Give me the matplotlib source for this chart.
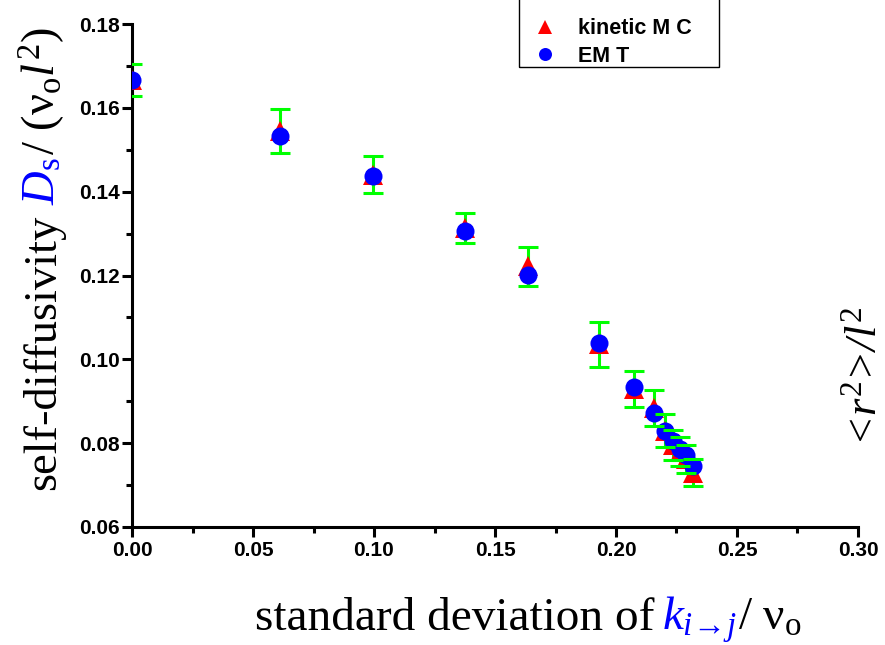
import numpy as np
import matplotlib
matplotlib.use('Agg')
import matplotlib.pyplot as plt
from matplotlib.ticker import MultipleLocator, FormatStrFormatter
from matplotlib.patches import Rectangle

plt.rcParams['mathtext.fontset'] = 'custom'
plt.rcParams['mathtext.rm'] = 'Liberation Serif'
plt.rcParams['mathtext.it'] = 'Liberation Serif:italic'
plt.rcParams['mathtext.bf'] = 'Liberation Serif:bold'

# standard deviation of k_{i->j} / nu_o
sigma = [0.0, 0.0612, 0.0997, 0.1376, 0.1638, 0.1930, 0.2075,
         0.2157, 0.2203, 0.2237, 0.2265, 0.2290, 0.2318]
# kinetic Monte Carlo self-diffusivity and its error
ds_mc = [0.1667, 0.1545, 0.1440, 0.1313, 0.1222, 0.1036, 0.0930,
         0.0884, 0.0830, 0.0795, 0.0780, 0.0762, 0.0730]
ds_mc_err = [0.0038, 0.0052, 0.0044, 0.0035, 0.0046, 0.0054, 0.0043,
             0.0042, 0.0040, 0.0036, 0.0035, 0.0034, 0.0033]
# effective medium theory
ds_emt = [0.1667, 0.1533, 0.1437, 0.1307, 0.1201, 0.1039, 0.0934,
          0.0873, 0.0828, 0.0805, 0.0786, 0.0772, 0.0745]
legend_labels = ['kinetic M C', 'EM T']

W, H = 885, 645
fig = plt.figure(figsize=(W / 100, H / 100), dpi=100)
ax = fig.add_axes([132 / W, 1 - 527 / H, 726 / W, 503 / H])

eb = ax.errorbar(sigma, ds_mc, yerr=ds_mc_err, fmt='none', ecolor='#00FF00',
                 elinewidth=2.2, capsize=7.5, capthick=2.2, zorder=2)
for cap in eb[1]:
    cap.set_zorder(5)
ax.plot(sigma, ds_mc, '^', color='#FF0000', ms=14, mew=0, zorder=3,
        label=legend_labels[0])
ax.plot(sigma, ds_emt, 'o', color='#0000FF', ms=13, mew=0, zorder=4,
        label=legend_labels[1])

ax.set_xlim(0, 0.30)
ax.set_ylim(0.06, 0.18)
ax.xaxis.set_major_locator(MultipleLocator(0.05))
ax.xaxis.set_minor_locator(MultipleLocator(0.025))
ax.yaxis.set_major_locator(MultipleLocator(0.02))
ax.yaxis.set_minor_locator(MultipleLocator(0.01))
ax.xaxis.set_major_formatter(FormatStrFormatter('%.2f'))
ax.yaxis.set_major_formatter(FormatStrFormatter('%.2f'))
for s in ['top', 'right']:
    ax.spines[s].set_visible(False)
for s in ['left', 'bottom']:
    ax.spines[s].set_linewidth(2.2)
ax.tick_params(which='major', direction='out', length=7, width=2.2, pad=2)
ax.tick_params(which='minor', direction='out', length=4, width=2.2)
ax.tick_params(axis='x', which='major', pad=3)
for lab in ax.get_xticklabels() + ax.get_yticklabels():
    lab.set_family('Liberation Sans')
    lab.set_fontweight('bold')
    lab.set_fontsize(15)

leg = ax.legend(loc='upper left', bbox_to_anchor=(534.3 / W, 1 - 18.5 / H),
                bbox_transform=fig.transFigure, frameon=False, borderpad=0,
                borderaxespad=0, handlelength=1.0, handletextpad=1.03,
                labelspacing=0.29, markerscale=0.72,
                prop={'family': 'Liberation Sans', 'weight': 'bold', 'size': 15.5})
fig.patches.append(Rectangle((519 / W, 1 - 67 / H), 200 / W, 70 / H,
                             transform=fig.transFigure, fill=False,
                             ec='black', lw=1))


def pieces_text(x0, y0, parts, vertical=False, size=34):
    r = fig.canvas.get_renderer()
    x, y = x0, y0
    for s, c, gap in parts:
        t = fig.text(x / W, y / H, s, color=c, fontsize=size,
                     family='Liberation Serif', rotation=90 if vertical else 0,
                     rotation_mode='anchor', ha='left', va='baseline')
        bb = t.get_window_extent(r)
        if vertical:
            y = bb.y1 + gap
        else:
            x = bb.x1 + gap


pieces_text(55, H - 490, [('self-diffusivity', 'black', 10),
                          (r'$D_\mathrm{s}$', '#0000FF', 2),
                          (r'/ (ν$_\mathrm{o}$$l^2$)', 'black', 0)],
            vertical=True, size=33.5)
pieces_text(255, H - 630, [('standard deviation of', 'black', 8),
                           (r'$k_{i\!\rightarrow\!j}$', '#0000FF', 0),
                           (r'/ ν$_\mathrm{o}$', 'black', 0)], size=34)

fig.text(876 / W, (H - 376) / H, r'<$r^2$>/$l^2$', rotation=90,
         rotation_mode='anchor', ha='center', va='baseline', fontsize=32,
         family='Liberation Serif', style='italic')

fig.savefig('out.png', dpi=100)
